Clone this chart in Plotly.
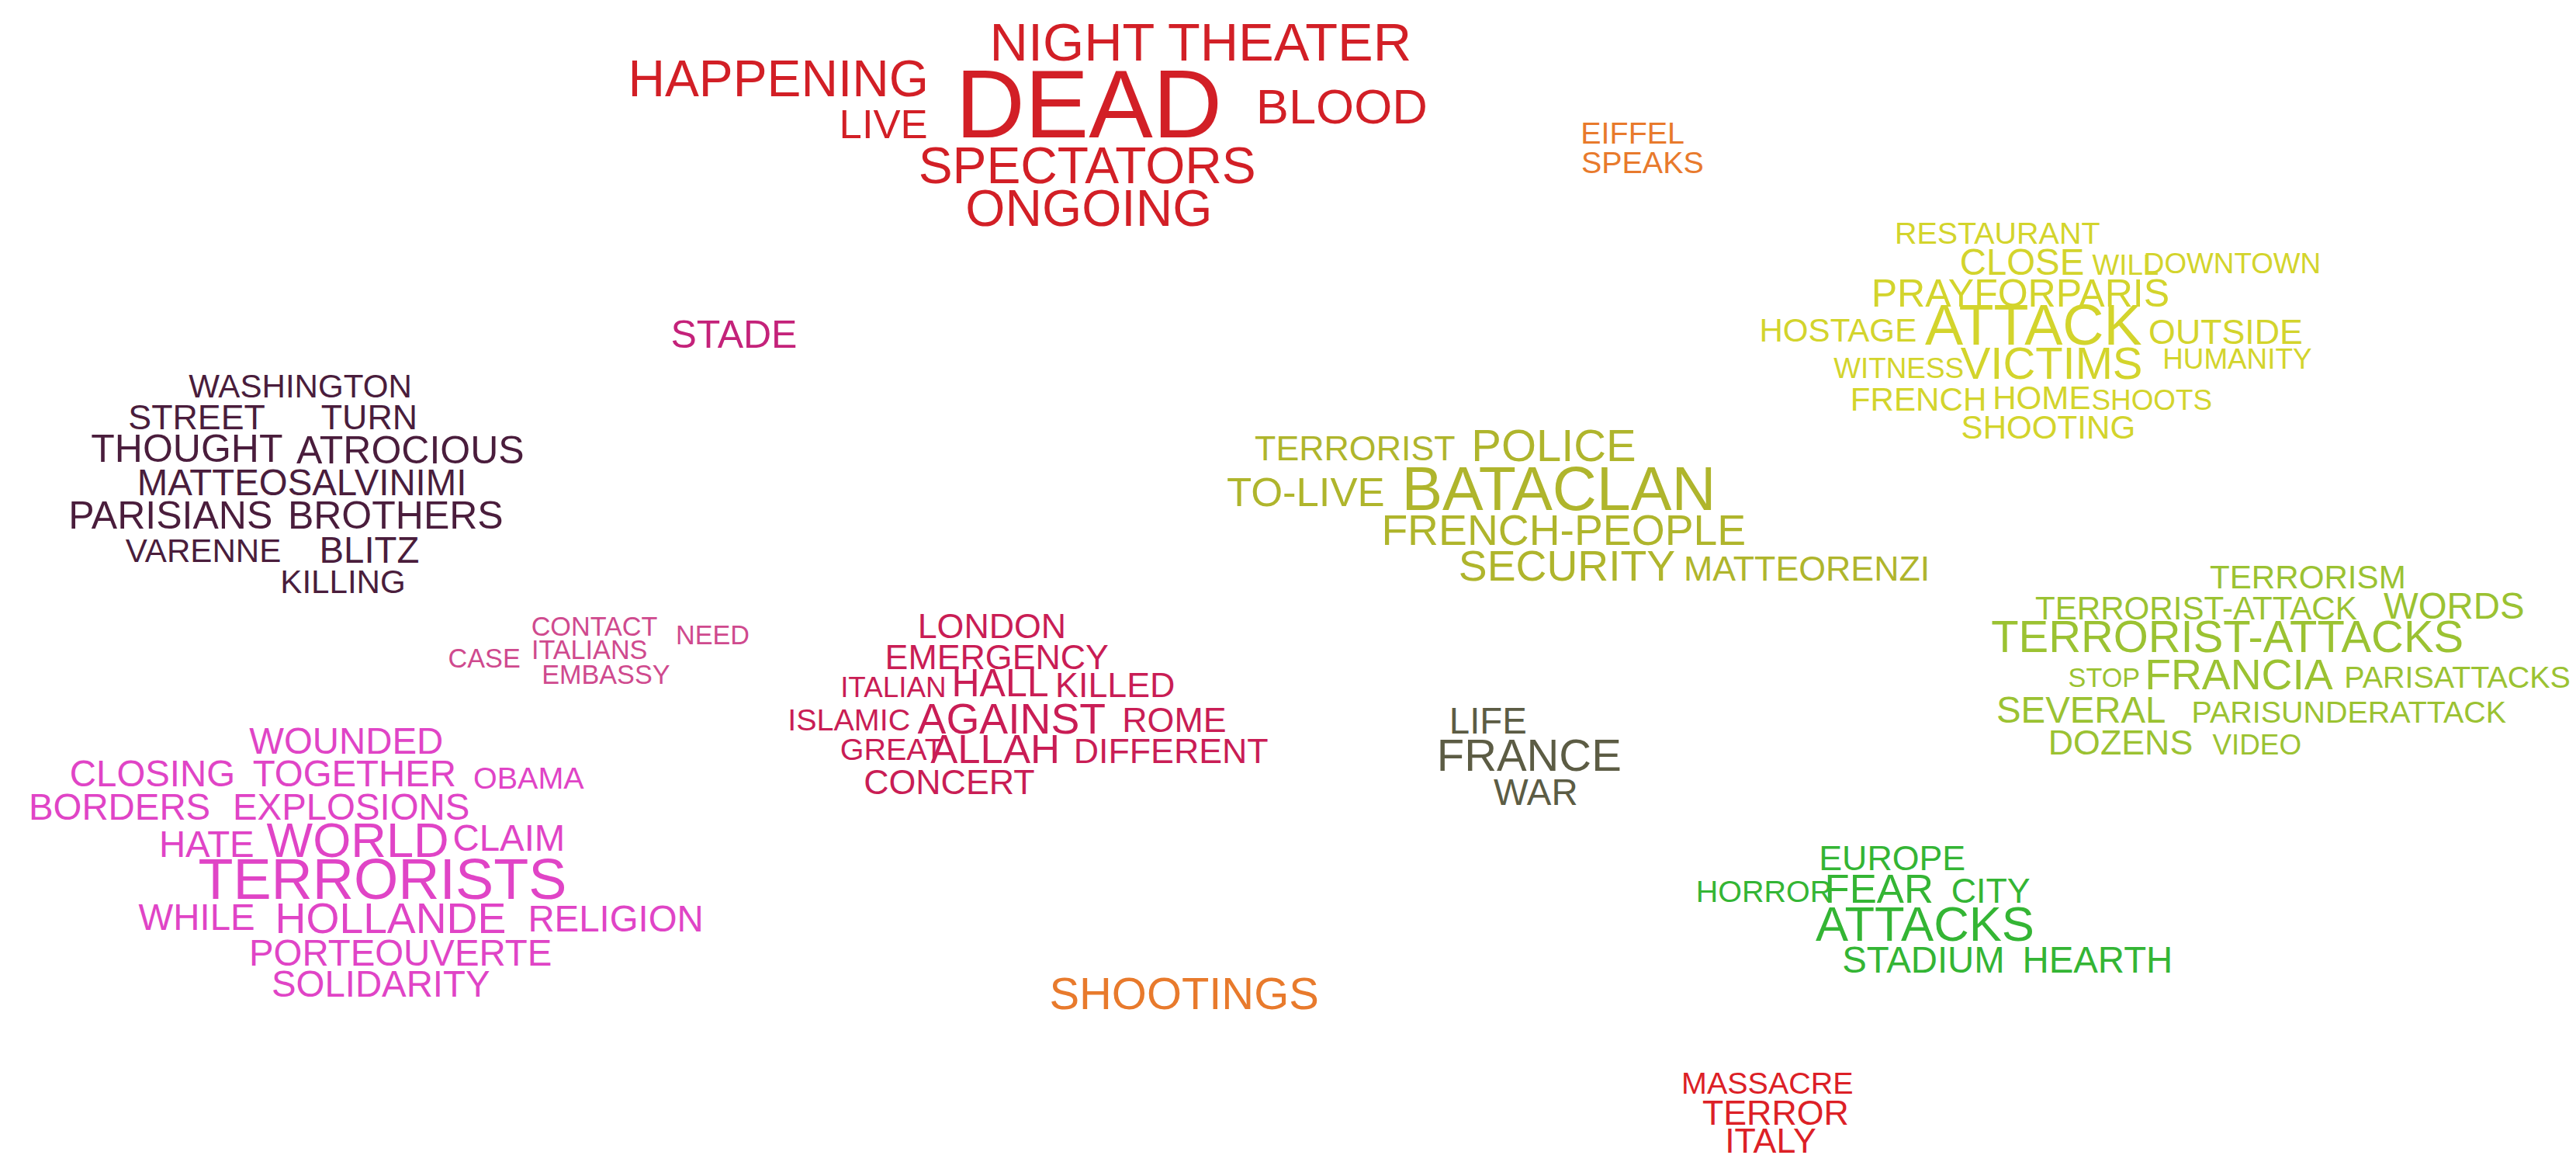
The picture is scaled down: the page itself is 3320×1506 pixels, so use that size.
import plotly.graph_objects as go

# word clusters: words, x, y (map coords), weight (relative size)
red_words = ["NIGHT THEATER", "HAPPENING", "DEAD", "BLOOD", "LIVE", "SPECTATORS", "ONGOING"]
red_x = [727, 470, 659, 813, 534, 658, 659]
red_y = [25, 47, 65, 64, 74, 100, 126]
red_w = [26, 25, 47, 24, 20, 25, 25]

orange_words = ["EIFFEL", "SPEAKS", "SHOOTINGS"]
orange_x = [990, 996, 717]
orange_y = [79, 97, 603]
orange_w = [15, 15, 22]

stade_words = ["STADE"]
stade_x = [443]
stade_y = [202]
stade_w = [19]

plum_words = ["WASHINGTON", "STREET", "TURN", "THOUGHT", "ATROCIOUS", "MATTEOSALVINIMI",
              "PARISIANS", "BROTHERS", "VARENNE", "BLITZ", "KILLING"]
plum_x = [179, 116, 221, 110, 246, 180, 100, 237, 120, 221, 205]
plum_y = [233, 252, 252, 271, 272, 292, 312, 312, 333, 333, 352]
plum_w = [16, 17, 17, 19, 19, 18, 19, 19, 16, 18, 16]

pink_words = ["CONTACT", "NEED", "CASE", "ITALIANS", "EMBASSY"]
pink_x = [358, 430, 291, 355, 365]
pink_y = [379, 384, 398, 393, 408]
pink_w = [13, 13, 13, 13, 13]

magenta_words = ["WOUNDED", "CLOSING", "TOGETHER", "OBAMA", "BORDERS", "EXPLOSIONS",
                 "HATE", "WORLD", "CLAIM", "TERRORISTS", "WHILE", "HOLLANDE", "RELIGION",
                 "PORTEOUVERTE", "SOLIDARITY"]
magenta_x = [207, 89, 212, 318, 69, 210, 122, 214, 306, 229, 116, 234, 371, 240, 228]
magenta_y = [449, 469, 469, 471, 489, 489, 512, 510, 508, 534, 556, 557, 557, 578, 597]
magenta_w = [18, 18, 18, 15, 18, 18, 18, 24, 18, 28, 18, 21, 18, 18, 18]

crimson_words = ["LONDON", "EMERGENCY", "ITALIAN", "HALL", "KILLED", "ISLAMIC", "AGAINST",
                 "ROME", "GREAT", "ALLAH", "DIFFERENT", "CONCERT"]
crimson_x = [600, 603, 540, 605, 675, 513, 612, 711, 539, 602, 709, 574]
crimson_y = [379, 398, 416, 414, 415, 436, 436, 436, 454, 454, 455, 474]
crimson_w = [17, 17, 14, 19, 17, 15, 21, 17, 15, 20, 17, 17]

olive_words = ["TERRORIST", "POLICE", "TO-LIVE", "BATACLAN", "FRENCH-PEOPLE", "SECURITY", "MATTEORENZI"]
olive_x = [821, 942, 791, 945, 948, 950, 1096]
olive_y = [271, 270, 298, 297, 321, 343, 344]
olive_w = [17, 22, 20, 30, 21, 21, 17]

yellow_words = ["RESTAURANT", "CLOSE", "WILL", "DOWNTOWN", "PRAYFORPARIS", "HOSTAGE", "ATTACK",
                "OUTSIDE", "HUMANITY", "WITNESS", "VICTIMS", "FRENCH", "HOME", "SHOOTS", "SHOOTING"]
yellow_x = [1212, 1227, 1290, 1355, 1226, 1115, 1234, 1351, 1358, 1152, 1245, 1164, 1239, 1306, 1243]
yellow_y = [140, 158, 159, 158, 177, 199, 197, 200, 216, 222, 220, 241, 240, 241, 258]
yellow_w = [15, 18, 14, 14, 19, 16, 28, 17, 14, 14, 22, 16, 16, 14, 16]

lime_words = ["TERRORISM", "TERRORIST-ATTACK", "WORDS", "TERRORIST-ATTACKS", "STOP", "FRANCIA",
              "PARISATTACKS", "SEVERAL", "PARISUNDERATTACK", "DOZENS", "VIDEO"]
lime_x = [1401, 1333, 1490, 1352, 1277, 1359, 1492, 1263, 1426, 1287, 1370]
lime_y = [349, 368, 367, 386, 410, 409, 410, 430, 431, 450, 451]
lime_w = [16, 16, 18, 22, 13, 21, 15, 18, 15, 17, 14]

dark_words = ["LIFE", "FRANCE", "WAR"]
dark_x = [902, 927, 931]
dark_y = [437, 458, 480]
dark_w = [18, 22, 18]

green_words = ["EUROPE", "HORROR", "FEAR", "CITY", "ATTACKS", "STADIUM", "HEARTH"]
green_x = [1148, 1070, 1140, 1208, 1168, 1167, 1273]
green_y = [520, 540, 539, 540, 561, 582, 582]
green_w = [17, 15, 20, 17, 24, 18, 18]

bottom_words = ["MASSACRE", "TERROR", "ITALY"]
bottom_x = [1072, 1077, 1074]
bottom_y = [657, 675, 692]
bottom_w = [15, 17, 17]

clusters = [
    (red_words, red_x, red_y, red_w, "#d21f26"),
    (orange_words, orange_x, orange_y, orange_w, "#e87a2c"),
    (stade_words, stade_x, stade_y, stade_w, "#c4227a"),
    (plum_words, plum_x, plum_y, plum_w, "#4a1d3c"),
    (pink_words, pink_x, pink_y, pink_w, "#cf4a8e"),
    (magenta_words, magenta_x, magenta_y, magenta_w, "#e044c6"),
    (crimson_words, crimson_x, crimson_y, crimson_w, "#c91d55"),
    (olive_words, olive_x, olive_y, olive_w, "#afb52c"),
    (yellow_words, yellow_x, yellow_y, yellow_w, "#d3d42c"),
    (lime_words, lime_x, lime_y, lime_w, "#9bc232"),
    (dark_words, dark_x, dark_y, dark_w, "#5c5c44"),
    (green_words, green_x, green_y, green_w, "#34b534"),
    (bottom_words, bottom_x, bottom_y, bottom_w, "#dc2026"),
]

W, H = 3320, 1506
SX = W / 1568.0
# no narrow font available, so shrink a bit to keep word widths close
SIZE_K = SX / 0.716 * 0.89

fig = go.Figure()
for words, xs, ys, ws, col in clusters:
    fig.add_trace(go.Scatter(
        x=xs, y=ys, text=words, mode="text",
        textposition="middle center",
        textfont=dict(family="Liberation Sans, Arial",
                      size=[w * SIZE_K for w in ws], color=col),
        hoverinfo="text", showlegend=False,
    ))

fig.update_layout(
    width=W, height=H,
    margin=dict(l=0, r=0, t=0, b=0),
    paper_bgcolor="white", plot_bgcolor="white",
    xaxis=dict(range=[0, 1568], visible=False, fixedrange=True),
    yaxis=dict(range=[711, 0], visible=False, fixedrange=True),
)

fig.write_html("out.html")
